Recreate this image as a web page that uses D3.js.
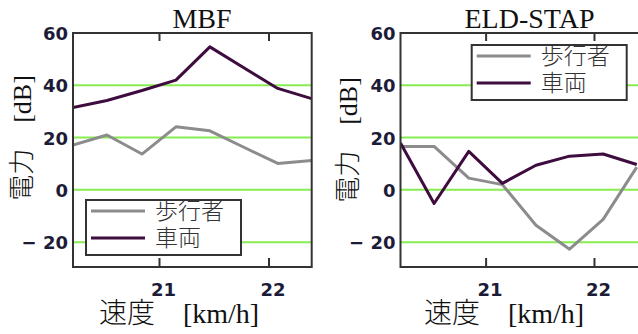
<html>
<script src='https://d3js.org/d3.v7.min.js'></script>
<style>
  body {margin: 0; background: white;}
  .tick-label {font-family: "DejaVu Sans", sans-serif; font-size: 18px; font-weight: bold; fill: #1c1c38;}
  .axis-title {font-family: "Liberation Serif", "Noto Sans CJK JP", serif; font-weight: 300; fill: #111;}
  .legend-text {font-family: "Liberation Sans", "Noto Sans CJK JP", sans-serif; font-size: 23px; font-weight: 300; fill: #333;}
</style>
<body onload='init()'>
<svg width=638 height=334></svg>
<script>
// speed axis values shared by both panels
var speed = [20.21, 20.52, 20.84, 21.15, 21.46, 21.77, 22.08, 22.39];
var mbfPedestrian = [17.1, 21.0, 13.7, 24.1, 22.6, 16.3, 10.1, 11.2];
var mbfVehicle = [31.5, 34.2, 38.0, 42.0, 54.7, 46.7, 38.8, 34.9];
var eldPedestrian = [16.6, 16.6, 4.5, 2.0, -13.5, -22.7, -11.3, 8.7];
var eldVehicle = [17.9, -5.2, 14.7, 2.5, 9.4, 12.9, 13.7, 9.7];
var yTicks = [-20, 0, 20, 40, 60];
var xTicks = [21, 22];
var seriesNames = ["歩行者", "車両"];
var seriesColors = ["#8c8c8c", "#3e0c3e"];
var panelTitles = ["MBF", "ELD-STAP"];

function init() {
  var svg = d3.select("svg");

  var panels = [
    {title: panelTitles[0], series: [mbfPedestrian, mbfVehicle], left: 73, right: 311.7, xDom: [20.21, 22.39],
     titleX: 202, yLabelX: 31, yLabelY: 138, xLabelX: 179, legend: {x: 86, y: 200}},
    {title: panelTitles[1], series: [eldPedestrian, eldVehicle], left: 400.5, right: 640, xDom: [20.21, 22.42],
     titleX: 529.5, yLabelX: 357, yLabelY: 140, xLabelX: 504, legend: {x: 471.7, y: 45}}
  ];

  panels.forEach(function(p, pi) {
    var top = 33, bottom = 267;
    var x = d3.scaleLinear().domain(p.xDom).range([p.left, p.right]);
    var y = d3.scaleLinear().domain([-29.5, 60]).range([bottom, top]);
    var g = svg.append("g");

    var clipId = "clip" + pi;
    svg.append("clipPath").attr("id", clipId)
      .append("rect").attr("x", p.left).attr("y", top).attr("width", p.right - p.left).attr("height", bottom - top);

    // green grid lines
    g.selectAll(".grid").data(yTicks.filter(function(d) { return d < 60; })).enter()
      .append("line")
        .attr("x1", p.left).attr("x2", p.right)
        .attr("y1", function(d) { return y(d); }).attr("y2", function(d) { return y(d); })
        .attr("stroke", "#86ec52").attr("stroke-width", 2);

    // series lines
    var line = d3.line().x(function(d, i) { return x(speed[i]); }).y(function(d) { return y(d); });
    p.series.forEach(function(s, si) {
      g.append("path").datum(s)
        .attr("d", line)
        .attr("clip-path", "url(#" + clipId + ")")
        .attr("fill", "none")
        .attr("stroke", seriesColors[si])
        .attr("stroke-width", 3)
        .attr("stroke-linejoin", "round");
    });

    // frame
    g.append("rect").attr("x", p.left).attr("y", top).attr("width", p.right - p.left).attr("height", bottom - top)
      .attr("fill", "none").attr("stroke", "#333").attr("stroke-width", 2);

    // inward x ticks, top and bottom
    xTicks.forEach(function(t) {
      g.append("line").attr("x1", x(t)).attr("x2", x(t)).attr("y1", top).attr("y2", top + 8)
        .attr("stroke", "#333").attr("stroke-width", 2);
      g.append("line").attr("x1", x(t)).attr("x2", x(t)).attr("y1", bottom).attr("y2", bottom - 9)
        .attr("stroke", "#333").attr("stroke-width", 2);
    });

    // tick labels
    g.selectAll(".ylab").data(yTicks).enter().append("text")
      .attr("class", "tick-label")
      .attr("x", p.left - 5).attr("y", function(d) { return y(d) + 7; })
      .attr("text-anchor", "end")
      .text(function(d) { return d < 0 ? "\u2212 " + Math.abs(d) : d; });
    g.selectAll(".xlab").data(xTicks).enter().append("text")
      .attr("class", "tick-label")
      .attr("x", function(d) { return x(d) + 4; }).attr("y", 296)
      .attr("text-anchor", "middle")
      .text(function(d) { return d; });

    // titles
    g.append("text").attr("class", "axis-title").attr("font-size", 28)
      .attr("x", p.titleX).attr("y", 28).attr("text-anchor", "middle").text(p.title);
    g.append("text").attr("class", "axis-title").attr("font-size", 26)
      .attr("transform", "translate(" + p.yLabelX + "," + p.yLabelY + ") rotate(-90)")
      .attr("text-anchor", "middle").text("電力\u3000[dB]");
    g.append("text").attr("class", "axis-title").attr("font-size", 28)
      .attr("x", p.xLabelX).attr("y", 323).attr("text-anchor", "middle").text("速度\u3000[km/h]");

    // legend
    var lg = g.append("g").attr("transform", "translate(" + p.legend.x + "," + p.legend.y + ")");
    lg.append("rect").attr("width", 155).attr("height", 55)
      .attr("fill", "white").attr("stroke", "#333").attr("stroke-width", 2);
    seriesNames.forEach(function(name, si) {
      var ly = 11 + si * 27;
      lg.append("line").attr("x1", 5).attr("x2", 59).attr("y1", ly).attr("y2", ly)
        .attr("stroke", seriesColors[si]).attr("stroke-width", 3);
      lg.append("text").attr("class", "legend-text").attr("x", 69).attr("y", ly + 8).text(name);
    });
  });
}
</script>
</body>
</html>
